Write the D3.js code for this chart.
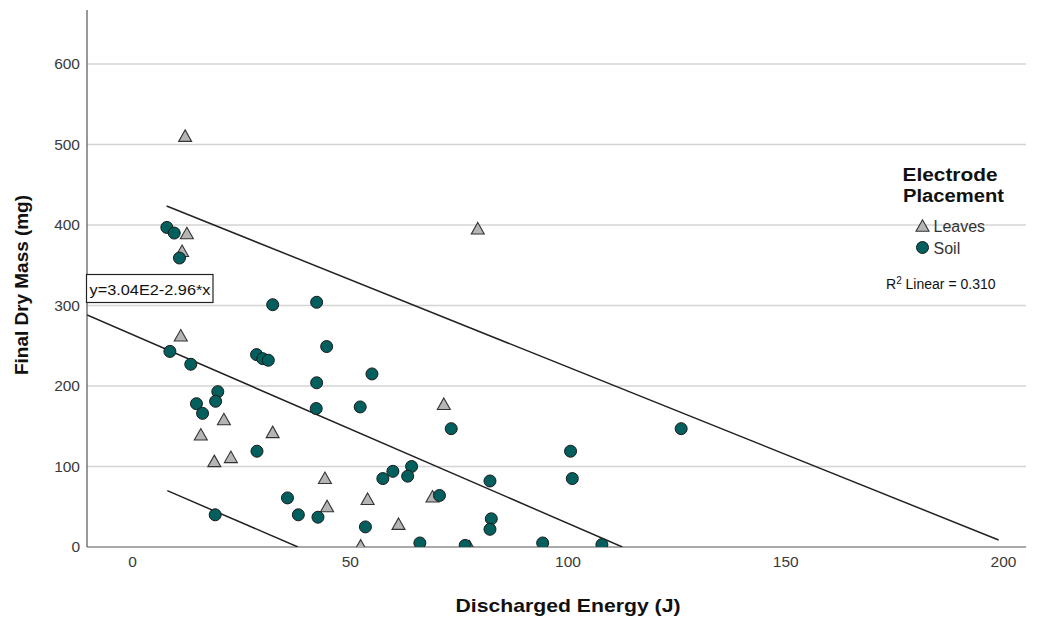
<!DOCTYPE html>
<html>
<head>
<meta charset="utf-8">
<script src="https://cdn.jsdelivr.net/npm/d3@7"></script>
<style>
  html, body { margin: 0; padding: 0; background: #fff; }
  svg { display: block; font-family: "Liberation Sans", Arial, sans-serif; }
</style>
</head>
<body>
<svg id="chart" width="1040" height="618"></svg>
<script>
// Discharged energy (J) vs final dry mass (mg), by electrode placement
const leavesEnergy = [12.2, 12.6, 11.5, 11.2, 21.1, 15.8, 22.7, 18.9, 32.3, 44.3, 44.8, 54.1, 52.5, 61.2, 69.0, 71.6, 79.4, 77.5];
const leavesMass   = [511, 390, 368, 263, 159, 140, 112, 107, 143, 86, 51, 60, 2, 29, 63, 178, 396, 1];

const soilEnergy = [8.0, 9.7, 10.9, 8.7, 13.5, 28.6, 30.0, 31.3, 32.3, 42.4, 44.7, 55.1, 42.4, 42.3, 52.4,
                    19.7, 19.2, 14.8, 16.2, 28.7, 19.1, 73.3, 64.2, 59.9, 57.6, 63.3, 82.2, 35.7, 70.6, 38.2,
                    42.7, 53.6, 82.5, 82.2, 66.1, 76.5, 126.1, 100.7, 101.1, 94.3, 107.9];
const soilMass   = [397, 390, 359, 243, 227, 239, 234, 232, 301, 304, 249, 215, 204, 172, 174,
                    193, 181, 178, 166, 119, 40, 147, 100, 94, 85, 88, 82, 61, 64, 40,
                    37, 25, 35, 22, 5, 2, 147, 119, 85, 5, 3];

// Reference lines: [x0, y0, x1, y1]
const upperLine  = [7.95, 423.6, 199.0, 8.7];
const middleLine = [-10.3, 288.2, 112.6, 0];
const lowerLine  = [8.1, 70.0, 38.1, 0];

const xTicks = [0, 50, 100, 150, 200];
const yTicks = [0, 100, 200, 300, 400, 500, 600];

const legendLabels = ["Leaves", "Soil"];
const equationText = "y=3.04E2-2.96*x";
const rSquared = "0.310";

const svg = d3.select("#chart");

const plot = { left: 87, right: 1026, top: 10, bottom: 547 };

const x = d3.scaleLinear().domain([0, 200]).range([132, 1003]);
const y = d3.scaleLinear().domain([0, 600]).range([547, 64]);

svg.append("defs").append("clipPath").attr("id", "plotClip")
  .append("rect")
  .attr("x", plot.left).attr("y", plot.top)
  .attr("width", plot.right - plot.left).attr("height", plot.bottom - plot.top);

// Horizontal gridlines
svg.append("g")
  .selectAll("line")
  .data(yTicks.filter(d => d > 0))
  .join("line")
  .attr("x1", plot.left).attr("x2", plot.right)
  .attr("y1", d => y(d)).attr("y2", d => y(d))
  .attr("stroke", "#d4d4d4")
  .attr("stroke-width", 1.6);

// Y axis
const yAxis = svg.append("g")
  .attr("transform", `translate(${plot.left},0)`)
  .call(d3.axisLeft(y).tickValues(yTicks).tickSize(0).tickPadding(7));
yAxis.select(".domain").remove();
yAxis.selectAll("text")
  .attr("font-size", 15.5)
  .attr("font-family", "Liberation Sans, Arial, sans-serif")
  .attr("fill", "#3a3a3a");

// X axis
const xAxis = svg.append("g")
  .attr("transform", `translate(0,${plot.bottom})`)
  .call(d3.axisBottom(x).tickValues(xTicks).tickSize(0).tickPadding(9));
xAxis.select(".domain").remove();
xAxis.selectAll("text")
  .attr("font-size", 15.5)
  .attr("font-family", "Liberation Sans, Arial, sans-serif")
  .attr("fill", "#3a3a3a");

// Axis frame lines
svg.append("line")
  .attr("x1", plot.left).attr("x2", plot.left)
  .attr("y1", plot.top).attr("y2", plot.bottom)
  .attr("stroke", "#555").attr("stroke-width", 1.2);
svg.append("line")
  .attr("x1", plot.left).attr("x2", plot.right)
  .attr("y1", plot.bottom).attr("y2", plot.bottom)
  .attr("stroke", "#555").attr("stroke-width", 1.2);

const inner = svg.append("g").attr("clip-path", "url(#plotClip)");

// Reference lines
inner.selectAll("line.ref")
  .data([upperLine, middleLine, lowerLine])
  .join("line")
  .attr("class", "ref")
  .attr("x1", d => x(d[0])).attr("y1", d => y(d[1]))
  .attr("x2", d => x(d[2])).attr("y2", d => y(d[3]))
  .attr("stroke", "#222")
  .attr("stroke-width", 1.5);

// Triangle marker with its bounding box centred on the point
const triW = 13, triH = 11.5;
const triPath = `M0,${-triH / 2}L${triW / 2},${triH / 2}L${-triW / 2},${triH / 2}Z`;

const leaves = leavesEnergy.map((e, i) => ({ e, m: leavesMass[i] }));
const soil = soilEnergy.map((e, i) => ({ e, m: soilMass[i] }));

inner.selectAll("path.leaf")
  .data(leaves)
  .join("path")
  .attr("class", "leaf")
  .attr("d", triPath)
  .attr("transform", d => `translate(${x(d.e)},${y(d.m)})`)
  .attr("fill", "#b5b5b5")
  .attr("stroke", "#333")
  .attr("stroke-width", 1.1);

inner.selectAll("circle.soil")
  .data(soil)
  .join("circle")
  .attr("class", "soil")
  .attr("cx", d => x(d.e))
  .attr("cy", d => y(d.m))
  .attr("r", 6)
  .attr("fill", "#035f5d")
  .attr("stroke", "#1a1a1a")
  .attr("stroke-width", 1);

// Fit equation box
const eqG = svg.append("g");
eqG.append("rect")
  .attr("x", 86.5).attr("y", 274.5)
  .attr("width", 126.5).attr("height", 28)
  .attr("fill", "#fff")
  .attr("stroke", "#222")
  .attr("stroke-width", 1.2);
eqG.append("text")
  .attr("x", 89.5).attr("y", 294.5)
  .attr("font-size", 15)
  .attr("textLength", 121)
  .attr("lengthAdjust", "spacingAndGlyphs")
  .attr("fill", "#111")
  .text(equationText);

// Legend
const legend = svg.append("g");
legend.append("text")
  .attr("x", 950).attr("y", 181)
  .attr("text-anchor", "middle")
  .attr("font-size", 18).attr("font-weight", "bold")
  .attr("textLength", 95)
  .attr("lengthAdjust", "spacingAndGlyphs")
  .attr("fill", "#111")
  .text("Electrode");
legend.append("text")
  .attr("x", 953.5).attr("y", 202)
  .attr("text-anchor", "middle")
  .attr("font-size", 18).attr("font-weight", "bold")
  .attr("textLength", 101)
  .attr("lengthAdjust", "spacingAndGlyphs")
  .attr("fill", "#111")
  .text("Placement");

const legendRows = legend.selectAll("g.row")
  .data(legendLabels)
  .join("g")
  .attr("class", "row")
  .attr("transform", (d, i) => `translate(922.5,${225.5 + i * 22})`);
legendRows.each(function (d, i) {
  const g = d3.select(this);
  if (i === 0) {
    g.append("path").attr("d", triPath)
      .attr("fill", "#b5b5b5").attr("stroke", "#333").attr("stroke-width", 1.1);
  } else {
    g.append("circle").attr("r", 6)
      .attr("fill", "#035f5d").attr("stroke", "#1a1a1a").attr("stroke-width", 1);
  }
  g.append("text")
    .attr("x", 11).attr("y", 6.5)
    .attr("font-size", 16)
    .attr("fill", "#333")
    .text(d);
});

const r2 = legend.append("text")
  .attr("x", 886).attr("y", 289)
  .attr("font-size", 14)
  .attr("fill", "#111");
r2.append("tspan").text("R");
r2.append("tspan").attr("dy", -5).attr("font-size", 10).text("2");
r2.append("tspan").attr("dy", 5).text(` Linear = ${rSquared}`);

// Axis titles
svg.append("text")
  .attr("transform", "translate(28,285) rotate(-90)")
  .attr("text-anchor", "middle")
  .attr("font-size", 18).attr("font-weight", "bold")
  .attr("textLength", 180)
  .attr("lengthAdjust", "spacingAndGlyphs")
  .attr("fill", "#111")
  .text("Final Dry Mass (mg)");

svg.append("text")
  .attr("x", 568).attr("y", 612)
  .attr("text-anchor", "middle")
  .attr("font-size", 19).attr("font-weight", "bold")
  .attr("textLength", 225)
  .attr("lengthAdjust", "spacingAndGlyphs")
  .attr("fill", "#111")
  .text("Discharged Energy (J)");
</script>
</body>
</html>
